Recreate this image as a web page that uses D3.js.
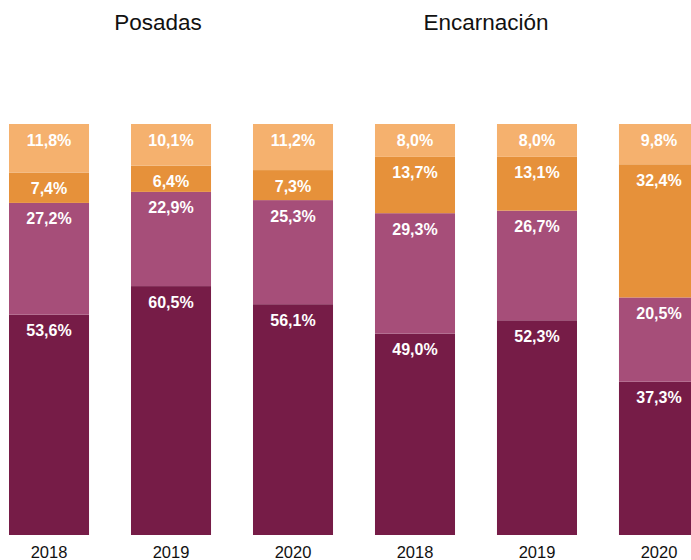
<!DOCTYPE html>
<html lang="es">
<head>
    <meta charset="UTF-8">
    <title>Posadas / Encarnación</title>
    <script src="https://cdn.jsdelivr.net/npm/d3@7/dist/d3.min.js"></script>
    <style>
        body { margin: 0; background: #fff; }
        svg { display: block; }
        .title { font-family: "Liberation Sans", Arial, sans-serif; font-size: 22.5px; fill: #111; }
        .val { font-family: "Liberation Sans", Arial, sans-serif; font-weight: bold; font-size: 16px; fill: #fff; }
        .axis text { font-family: "Liberation Sans", Arial, sans-serif; font-size: 16.5px; fill: #111; }
    </style>
</head>
<body>
<svg width="691" height="560"></svg>
<script>
    // data
    var cities = ["Posadas", "Posadas", "Posadas", "Encarnación", "Encarnación", "Encarnación"];
    var years = ["2018", "2019", "2020", "2018", "2019", "2020"];
    // series, bottom to top
    var serie1 = [53.6, 60.5, 56.1, 49.0, 52.3, 37.3];
    var serie2 = [27.2, 22.9, 25.3, 29.3, 26.7, 20.5];
    var serie3 = [7.4, 6.4, 7.3, 13.7, 13.1, 32.4];
    var serie4 = [11.8, 10.1, 11.2, 8.0, 8.0, 9.8];
    var groupTitles = ["Posadas", "Encarnación"];

    var keys = ["s1", "s2", "s3", "s4"];
    var colors = ["#761c47", "#a64e79", "#e6913a", "#f5b16e"];

    var rows = [];
    for (var i = 0; i < years.length; i++) {
        rows.push({
            id: cities[i] + "-" + years[i],
            year: years[i],
            s1: serie1[i], s2: serie2[i], s3: serie3[i], s4: serie4[i]
        });
    }

    var svg = d3.select("svg");

    var x = d3.scaleBand()
        .domain(rows.map(function(d) { return d.id; }))
        .range([9, 699])
        .paddingInner(0.344)
        .paddingOuter(0);

    var y = d3.scaleLinear().domain([0, 1]).range([535, 124]);

    var color = d3.scaleOrdinal().domain(keys).range(colors);

    var stack = d3.stack().keys(keys).offset(d3.stackOffsetExpand);
    var series = stack(rows);

    var layer = svg.append("g")
        .selectAll("g")
        .data(series)
        .enter().append("g")
        .attr("fill", function(d) { return color(d.key); });

    layer.selectAll("rect")
        .data(function(d) { return d; })
        .enter().append("rect")
        .attr("x", function(d) { return x(d.data.id); })
        .attr("width", x.bandwidth())
        .attr("y", function(d) { return y(d[1]); })
        .attr("height", function(d) { return y(d[0]) - y(d[1]); });

    // value labels near the top of each segment
    series.forEach(function(s) {
        svg.append("g").selectAll("text")
            .data(s)
            .enter().append("text")
            .attr("class", "val")
            .attr("text-anchor", "middle")
            .attr("x", function(d) { return x(d.data.id) + x.bandwidth() / 2; })
            .attr("y", function(d) { return y(d[1]) + 21.5; })
            .text(function(d) { return d.data[s.key].toFixed(1).replace(".", ",") + "%"; });
    });

    // year axis
    var axis = svg.append("g")
        .attr("class", "axis")
        .attr("transform", "translate(0,535)")
        .call(d3.axisBottom(x)
            .tickSize(0)
            .tickPadding(11)
            .tickFormat(function(id) { return id.split("-")[1]; }));
    axis.select(".domain").remove();

    // group titles
    svg.selectAll(".title")
        .data(groupTitles)
        .enter().append("text")
        .attr("class", "title")
        .attr("text-anchor", "middle")
        .attr("x", function(d, i) { return i === 0 ? 158 : 486; })
        .attr("y", 30)
        .text(function(d) { return d; });
</script>
</body>
</html>
